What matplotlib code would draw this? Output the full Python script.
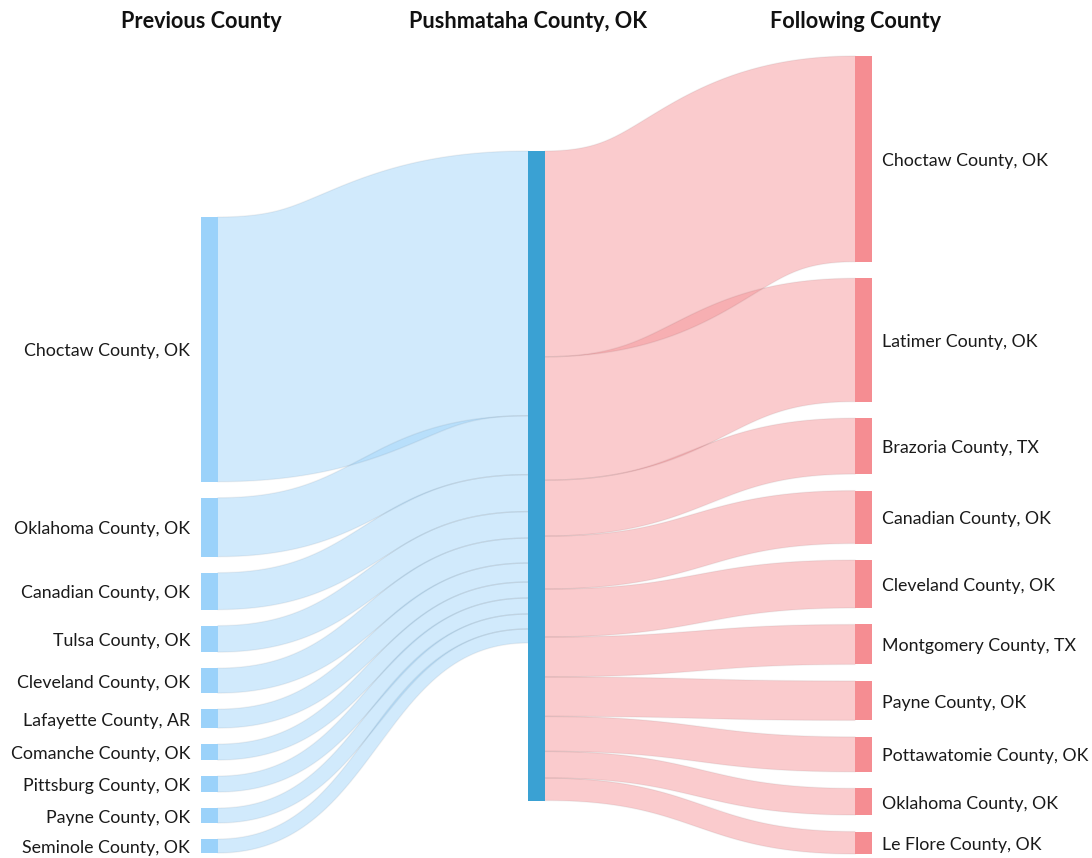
import numpy as np
import matplotlib
matplotlib.use("Agg")
import matplotlib.pyplot as plt
from matplotlib.patches import Polygon, Rectangle

# ---------------- data ----------------
center_name = "Pushmataha County, OK"
column_titles = ["Previous County", "Pushmataha County, OK", "Following County"]

prev_counties = ["Choctaw County, OK", "Oklahoma County, OK", "Canadian County, OK",
                 "Tulsa County, OK", "Cleveland County, OK", "Lafayette County, AR",
                 "Comanche County, OK", "Pittsburg County, OK", "Payne County, OK",
                 "Seminole County, OK"]
prev_values = [265, 59, 37, 26.5, 25, 19, 16, 16, 15, 14]

next_counties = ["Choctaw County, OK", "Latimer County, OK", "Brazoria County, TX",
                 "Canadian County, OK", "Cleveland County, OK", "Montgomery County, TX",
                 "Payne County, OK", "Pottawatomie County, OK", "Oklahoma County, OK",
                 "Le Flore County, OK"]
next_values = [206, 123.5, 56, 53, 48, 40, 39.5, 35, 26.7, 22.5]

# ---------------- style ----------------
W, H = 1092, 858
LEFT_NODE = "#9bd2fa"
CENTER_NODE = "#3aa1d3"
RIGHT_NODE = "#f58d92"
LINK_ALPHA = 0.45
FONT = "Lato"

fig = plt.figure(figsize=(W / 100, H / 100), dpi=100)
ax = fig.add_axes([0, 0, 1, 1])
ax.set_xlim(0, W)
ax.set_ylim(H, 0)
ax.axis("off")

# ---------------- layout ----------------
node_w = 17
x_left, x_center, x_right = 201, 528, 855
top, bottom = 56, 854
pad_right, pad_left = 16.5, 16
n = len(next_values)
k = (bottom - top - (n - 1) * pad_right) / sum(next_values)


def column(values, pad, y_start=None, y_end=None):
    hs = [v * k for v in values]
    total = sum(hs) + (len(hs) - 1) * pad
    y = y_start if y_start is not None else y_end - total
    pos = []
    for h in hs:
        pos.append((y, y + h))
        y += h + pad
    return pos


left_pos = column(prev_values, pad_left, y_end=bottom - 1)
right_pos = column(next_values, pad_right, y_start=top)
center_top = 151
center_h = max(sum(prev_values), sum(next_values)) * k
center_pos = (center_top, center_top + center_h)


def link(x0, y0, x1, y1, w, color):
    t = np.linspace(0, 1, 200)[:, None]
    xm = (x0 + x1) / 2
    P0, P1, P2, P3 = (np.array(p) for p in [(x0, y0), (xm, y0), (xm, y1), (x1, y1)])
    B = (1 - t) ** 3 * P0 + 3 * (1 - t) ** 2 * t * P1 + 3 * (1 - t) * t ** 2 * P2 + t ** 3 * P3
    D = 3 * (1 - t) ** 2 * (P1 - P0) + 6 * (1 - t) * t * (P2 - P1) + 3 * t ** 2 * (P3 - P2)
    nrm = np.column_stack([-D[:, 1], D[:, 0]])
    nrm /= np.linalg.norm(nrm, axis=1)[:, None]
    up = B + nrm * w / 2
    lo = B - nrm * w / 2
    poly = np.vstack([up, lo[::-1]])
    ax.add_patch(Polygon(poly, closed=True, facecolor=color, alpha=LINK_ALPHA,
                         edgecolor="none", zorder=1))
    ax.plot(up[:, 0], up[:, 1], color="black", alpha=0.05, lw=1, zorder=1.5)
    ax.plot(lo[:, 0], lo[:, 1], color="black", alpha=0.05, lw=1, zorder=1.5)


# links: previous -> center
yc = center_pos[0]
for (a, b), v in zip(left_pos, prev_values):
    h = v * k
    link(x_left + node_w, (a + b) / 2, x_center, yc + h / 2, h, LEFT_NODE)
    yc += h

# links: center -> following
yc = center_pos[0]
for (a, b), v in zip(right_pos, next_values):
    h = v * k
    link(x_center + node_w, yc + h / 2, x_right, (a + b) / 2, h, RIGHT_NODE)
    yc += h

# nodes
for (a, b) in left_pos:
    ax.add_patch(Rectangle((x_left, a), node_w, b - a, facecolor=LEFT_NODE, edgecolor="none", zorder=3))
for (a, b) in right_pos:
    ax.add_patch(Rectangle((x_right, a), node_w, b - a, facecolor=RIGHT_NODE, edgecolor="none", zorder=3))
ax.add_patch(Rectangle((x_center, center_pos[0]), node_w, center_pos[1] - center_pos[0],
                       facecolor=CENTER_NODE, edgecolor="none", zorder=3))

# labels
for (a, b), name in zip(left_pos, prev_counties):
    ax.text(x_left - 11, (a + b) / 2 + 2, name, ha="right", va="center",
            fontsize=12.75, family=FONT, color="#1a1a1a")
for (a, b), name in zip(right_pos, next_counties):
    ax.text(x_right + node_w + 10, (a + b) / 2 + 2, name, ha="left", va="center",
            fontsize=12.75, family=FONT, color="#1a1a1a")

for x, title in zip([x_left, x_center, x_right], column_titles):
    ax.text(x, 22, title, ha="center", va="center", fontsize=15.6,
            family=FONT, fontweight="bold", color="#111111")

fig.savefig("out.png", dpi=100)
